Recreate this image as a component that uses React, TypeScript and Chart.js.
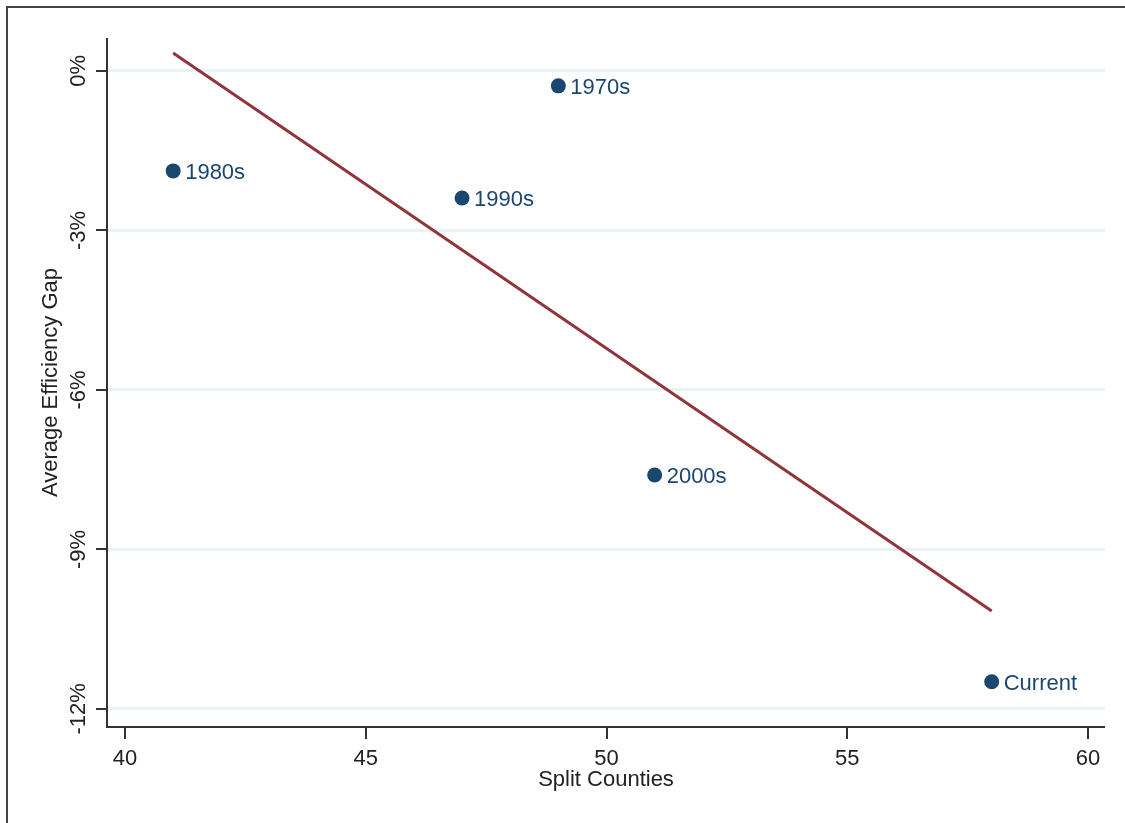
import React, { useEffect, useRef } from "react";
import { Chart, registerables } from "chart.js";

Chart.register(...registerables);

const decadeLabels = ["1970s", "1980s", "1990s", "2000s", "Current"];
const splitCounties = [49, 41, 47, 51, 58];
const efficiencyGap = [-0.28, -1.88, -2.39, -7.6, -11.49];
const fitX = [41, 58];
const fitY = [0.34, -10.16];
const xTickValues = [40, 45, 50, 55, 60];
const yTickValues = [-12, -9, -6, -3, 0];
const xTitle = "Split Counties";
const yTitle = "Average Efficiency Gap";

const NAVY = "#1a476f";
const MAROON = "#90353b";
const AXIS = "#333333";
const FONT = "'Liberation Sans', Arial, sans-serif";

const customDraw = {
  id: "customDraw",
  afterDraw(chart: any) {
    const ctx = chart.ctx;
    const xs = chart.scales.x;
    const ys = chart.scales.y;
    const a = chart.chartArea;
    ctx.save();
    // outer frame
    ctx.strokeStyle = "#444";
    ctx.lineWidth = 2;
    ctx.strokeRect(7, 7, 1140, 840);
    // axes lines
    ctx.strokeStyle = AXIS;
    ctx.lineWidth = 2;
    ctx.beginPath();
    ctx.moveTo(a.left, a.top);
    ctx.lineTo(a.left, a.bottom);
    ctx.lineTo(a.right, a.bottom);
    ctx.stroke();
    // ticks
    ctx.beginPath();
    xTickValues.forEach((v) => {
      const px = Math.round(xs.getPixelForValue(v));
      ctx.moveTo(px, a.bottom);
      ctx.lineTo(px, a.bottom + 12);
    });
    yTickValues.forEach((v) => {
      const py = Math.round(ys.getPixelForValue(v));
      ctx.moveTo(a.left, py);
      ctx.lineTo(a.left - 11, py);
    });
    ctx.stroke();
    // x tick labels
    ctx.fillStyle = "#222";
    ctx.font = `22px ${FONT}`;
    ctx.textAlign = "center";
    ctx.textBaseline = "alphabetic";
    xTickValues.forEach((v) => {
      ctx.fillText(String(v), xs.getPixelForValue(v), 765);
    });
    // y tick labels rotated
    yTickValues.forEach((v) => {
      ctx.save();
      ctx.translate(85, ys.getPixelForValue(v));
      ctx.rotate(-Math.PI / 2);
      ctx.textAlign = "center";
      ctx.fillText(v + "%", 0, 0);
      ctx.restore();
    });
    // titles
    ctx.textAlign = "center";
    ctx.fillText(xTitle, (a.left + a.right) / 2, 786);
    ctx.save();
    ctx.translate(57, (a.top + a.bottom) / 2);
    ctx.rotate(-Math.PI / 2);
    ctx.fillText(yTitle, 0, 0);
    ctx.restore();
    // point labels
    const meta = chart.getDatasetMeta(1);
    ctx.fillStyle = NAVY;
    ctx.textAlign = "left";
    meta.data.forEach((pt: any, i: number) => {
      ctx.fillText(decadeLabels[i], pt.x + 12, pt.y + 8);
    });
    ctx.restore();
  },
};

export default function App() {
  const ref = useRef<HTMLCanvasElement | null>(null);
  useEffect(() => {
    if (!ref.current) return;
    const chart = new Chart(ref.current, {
      type: "scatter",
      data: {
        datasets: [
          {
            type: "line",
            data: fitX.map((x, i) => ({ x, y: fitY[i] })),
            borderColor: MAROON,
            borderWidth: 3,
            pointRadius: 0,
            fill: false,
          } as any,
          {
            data: splitCounties.map((x, i) => ({ x, y: efficiencyGap[i] })),
            backgroundColor: NAVY,
            borderColor: NAVY,
            pointRadius: 7.5,
            borderWidth: 0,
          },
        ],
      },
      options: {
        animation: false,
        responsive: false,
        layout: { padding: { top: 38, right: 20, left: 0, bottom: 0 } },
        plugins: { legend: { display: false }, tooltip: { enabled: false } },
        scales: {
          x: {
            type: "linear",
            min: 39.626,
            max: 60.353,
            afterFit: (s: any) => { s.height = 96; },
            afterBuildTicks: (s: any) => { s.ticks = xTickValues.map((v) => ({ value: v })); },
            ticks: { display: false },
            grid: { display: false },
            border: { display: false },
          },
          y: {
            type: "linear",
            min: -12.34,
            max: 0.62,
            afterFit: (s: any) => { s.width = 107; },
            afterBuildTicks: (s: any) => { s.ticks = yTickValues.map((v) => ({ value: v })); },
            ticks: { display: false },
            grid: { color: "#eaf2f3", lineWidth: 3, drawTicks: false },
            border: { display: false },
          },
        },
      } as any,
      plugins: [customDraw],
    });
    return () => chart.destroy();
  }, []);
  return (
    <div style={{ position: "absolute", left: 0, top: 0, width: 1125, height: 823, background: "#fff" }}>
      <canvas ref={ref} width={1125} height={823} style={{ width: 1125, height: 823 }} />
    </div>
  );
}
